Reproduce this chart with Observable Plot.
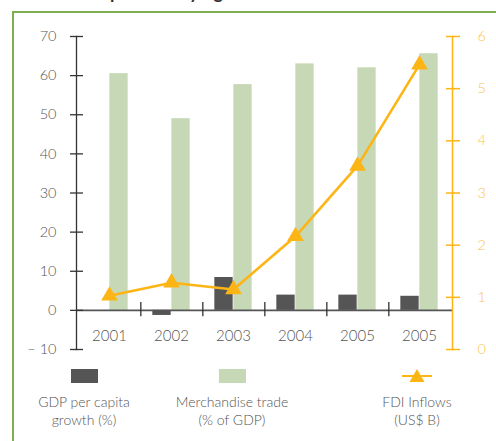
<!DOCTYPE html>
<html>
<head>
<meta charset="utf-8">
<script src="https://cdn.jsdelivr.net/npm/d3@7"></script>
<script src="https://cdn.jsdelivr.net/npm/@observablehq/plot@0.6"></script>
<style>
  html, body { margin: 0; padding: 0; background: #fff; }
  #wrap { position: relative; width: 496px; height: 441px; overflow: hidden; font-family: Lato, "Open Sans", sans-serif; font-weight: 300; color: #555; }
  #frame { position: absolute; left: 12px; top: 11px; width: 520px; height: 460px; border-left: 2px solid #7DAF4E; border-top: 2px solid #7DAF4E; }
  #title { position: absolute; left: 28px; top: -19px; font-size: 18px; font-weight: 700; color: #333; white-space: nowrap; }
  #chart { position: absolute; left: 0; top: 0; }
  .sw { position: absolute; }
  .lt { position: absolute; width: 160px; text-align: center; font-size: 14px; line-height: 18px; color: #555; font-weight: 300; }
</style>
</head>
<body>
<div id="wrap">
  <div id="title">Economic profile: key figures</div>
  <div id="frame"></div>
  <div id="chart"></div>
  <div id="legend"></div>
</div>
<script>
// ---- data ----
const years = ["2001", "2002", "2003", "2004", "2005", "2005"];
const gdpGrowth = [0, -1.3, 8.4, 3.9, 3.9, 3.6];          // GDP per capita growth (%)
const merchTrade = [60.5, 49.0, 57.7, 63.0, 62.0, 65.6];   // Merchandise trade (% of GDP)
const fdiInflows = [1.03, 1.28, 1.15, 2.17, 3.52, 5.46];   // FDI Inflows (US$ B)
const leftTicks = [-10, 0, 10, 20, 30, 40, 50, 60, 70];
const rightTicks = [0, 1, 2, 3, 4, 5, 6];
const seriesNames = ["GDP per capita\ngrowth (%)", "Merchandise trade\n(% of GDP)", "FDI Inflows\n(US$ B)"];

// ---- colours ----
const cDark = "#555555", cGreen = "#C6D8B5", cOrange = "#FDB515", cOrangeText = "#FBC450";

// right axis (0..6) mapped onto left axis (-10..70)
const toLeft = v => -10 + v * 80 / 6;
const fromLeft = y => Math.round((y + 10) * 6 / 80);

const idx = years.map((_, i) => i);
const rows = idx.map(i => ({i, year: years[i], gdp: gdpGrowth[i], trade: merchTrade[i], fdi: fdiInflows[i]}));

const W = 496, H = 360, mL = 76, mR = 44, mT = 36, mB = 11;
const half = (W - mL - mR) / years.length / 2;

const chart = Plot.plot({
  width: W, height: H,
  marginLeft: mL, marginRight: mR, marginTop: mT, marginBottom: mB,
  style: {fontFamily: "Lato, 'Open Sans', sans-serif", fontWeight: 300, fontSize: "14px", color: "#555", background: "transparent", overflow: "visible"},
  x: {type: "band", domain: idx, padding: 0, axis: null},
  y: {domain: [-10, 70], axis: null},
  marks: [
    Plot.barY(rows, {x: "i", y: "gdp", fill: cDark, insetLeft: half - 19, insetRight: half}),
    Plot.barY(rows, {x: "i", y: "trade", fill: cGreen, insetLeft: half, insetRight: half - 19}),
    Plot.ruleY([0], {stroke: "#555", strokeWidth: 1.6}),
    Plot.ruleX(idx.slice(0, -1), {x: d => d, y1: -1.6, y2: 2.0, dx: half, stroke: "#333", strokeWidth: 1.3}),
    Plot.frame({anchor: "left", stroke: "#333", strokeWidth: 1.3}),
    Plot.axisY({anchor: "left", ticks: leftTicks, tickSize: 13, dx: 7, stroke: "#333", strokeWidth: 1.3, label: null,
      tickFormat: () => ""}),
    Plot.axisY({anchor: "left", ticks: leftTicks, tickSize: 0, tickPadding: 20, fontSize: 14.5, fill: "#555", label: null,
      tickFormat: d => d < 0 ? "\u2013 " + Math.abs(d) : String(d)}),
    Plot.frame({anchor: "right", stroke: cOrange, strokeWidth: 1.5}),
    Plot.axisY({anchor: "right", ticks: rightTicks.map(toLeft), tickSize: 14, dx: -7, stroke: cOrange, strokeWidth: 1.5, label: null,
      tickFormat: () => ""}),
    Plot.axisY({anchor: "right", ticks: rightTicks.map(toLeft), tickSize: 0, tickPadding: 25, fontSize: 14.5, fill: cOrangeText, label: null,
      tickFormat: d => String(fromLeft(d))}),
    Plot.axisX({anchor: "bottom", tickSize: 0, tickPadding: 0, dy: -19, fontSize: 15, fill: "#555", label: null, tickFormat: i => years[i]}),
    Plot.line(rows, {x: "i", y: d => toLeft(d.fdi), stroke: cOrange, strokeWidth: 2.6}),
    Plot.dot(rows, {x: "i", y: d => toLeft(d.fdi), symbol: "triangle", r: 6.2, fill: cOrange, stroke: "none"})
  ]
});
document.getElementById("chart").append(chart);

// ---- legend (HTML below the SVG plot area) ----
const legend = document.getElementById("legend");
const items = [
  {cx: 84, kind: "bar", color: cDark},
  {cx: 232, kind: "bar", color: cGreen},
  {cx: 417, kind: "line", color: cOrange}
];
items.forEach((it, k) => {
  if (it.kind === "bar") {
    const s = document.createElement("div");
    s.className = "sw";
    s.style.cssText = `left:${it.cx - 13.5}px; top:369px; width:27px; height:14px; background:${it.color};`;
    legend.append(s);
  } else {
    const ns = "http://www.w3.org/2000/svg";
    const svg = document.createElementNS(ns, "svg");
    svg.setAttribute("width", 40); svg.setAttribute("height", 20);
    svg.style.cssText = `position:absolute; left:${it.cx - 20}px; top:366px;`;
    const ln = document.createElementNS(ns, "line");
    ln.setAttribute("x1", 5); ln.setAttribute("x2", 35); ln.setAttribute("y1", 10); ln.setAttribute("y2", 10);
    ln.setAttribute("stroke", it.color); ln.setAttribute("stroke-width", 2);
    const tri = document.createElementNS(ns, "path");
    tri.setAttribute("d", "M20,3 L27.5,16 L12.5,16 Z");
    tri.setAttribute("fill", it.color);
    svg.append(ln, tri);
    legend.append(svg);
  }
  const t = document.createElement("div");
  t.className = "lt";
  t.style.left = (it.cx - 80) + "px";
  t.style.top = "393px";
  t.innerHTML = seriesNames[k].split("\n").join("<br>");
  legend.append(t);
});
</script>
</body>
</html>
